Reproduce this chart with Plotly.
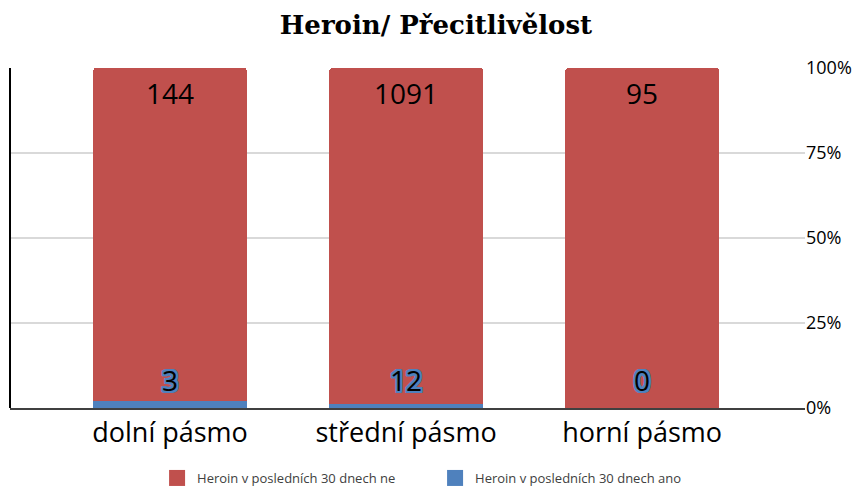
import plotly.graph_objects as go

categories = ["dolní pásmo", "střední pásmo", "horní pásmo"]
ne_values = [144, 1091, 95]
ano_values = [3, 12, 0]
series_names = ["Heroin v posledních 30 dnech ne", "Heroin v posledních 30 dnech ano"]
tick_vals = [0, 25, 50, 75, 100]
tick_text = ["0%", "25%", "50%", "75%", "100%"]

RED = "#c0504d"
BLUE = "#4f81bd"

fig = go.Figure()
fig.add_trace(go.Bar(x=categories, y=ano_values, name=series_names[1], showlegend=False,
                     marker=dict(color=BLUE, line=dict(width=0)), width=0.65))
fig.add_trace(go.Bar(x=categories, y=ne_values, name=series_names[0], showlegend=False,
                     marker=dict(color=RED, line=dict(width=0)), width=0.65))
# legend entries with larger square swatches
for name, col in ((series_names[0], RED), (series_names[1], BLUE)):
    fig.add_trace(go.Scatter(x=[None], y=[None], mode="markers", name=name,
                             marker=dict(symbol="square", size=16, color=col), showlegend=True))

for c, v in zip(categories, ne_values):
    fig.add_annotation(x=c, y=92.6, text=str(v), showarrow=False,
                       font=dict(family="Open Sans", size=28, color="black"))
sh = ", ".join(f"{dx}px {dy}px 0 #4f81bd" for dx in (-2, -1, 0, 1, 2) for dy in (-2, -1, 0, 1, 2) if (dx, dy) != (0, 0))
for c, v in zip(categories, ano_values):
    fig.add_annotation(x=c, y=8.2, text=str(v), showarrow=False,
                       font=dict(family="Open Sans", size=28, color="black", shadow=sh))

fig.add_shape(type="line", xref="paper", yref="y", x0=0, x1=0, y0=0, y1=100,
              line=dict(color="black", width=2))

fig.update_layout(
    width=861, height=488,
    barmode="stack", barnorm="percent", barcornerradius=3,
    plot_bgcolor="white", paper_bgcolor="white",
    margin=dict(l=2, r=64, t=60, b=88, autoexpand=False),
    title=dict(text="<b>Heroin/ Přecitlivělost</b>", x=0.497, xanchor="center", y=1 - 17 / 488, yanchor="middle",
               yref="container",
               font=dict(family="DejaVu Serif", size=26, color="black")),
    showlegend=True,
    legend=dict(orientation="h", x=0.185, xanchor="left", y=1 - 470 / 488, yanchor="middle", yref="container",
                traceorder="normal",
                font=dict(family="Open Sans", size=13, color="#404040"),
                itemsizing="trace", entrywidth=233, entrywidthmode="pixels"),
    xaxis=dict(range=[-0.678, 2.69], showgrid=False, showline=True, linecolor="#404040", linewidth=1.5,
               tickfont=dict(family="Open Sans", size=27, color="black"), ticks="", automargin=False),
    yaxis=dict(side="right", range=[0, 100], tickvals=tick_vals, ticktext=tick_text,
               showgrid=True, gridcolor="#d9d9d9", gridwidth=1.5, zeroline=False, automargin=False,
               tickfont=dict(family="Open Sans", size=18, color="black")),
)

fig.write_html("out.html")
